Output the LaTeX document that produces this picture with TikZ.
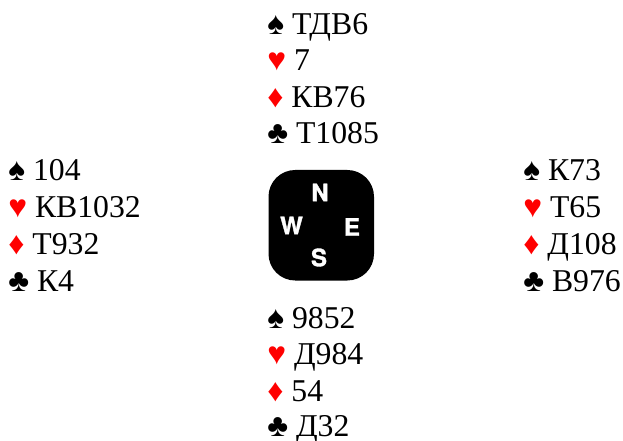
\documentclass[tikz,border=0pt]{standalone}
\usepackage{fontspec}
\setmainfont{Liberation Serif}
\newfontfamily\compassf[BoldFeatures={FakeBold=1.5}]{TeX Gyre Heros}
\definecolor{suitred}{RGB}{255,0,0}
\tikzset{
  hand/.style={anchor=base west,inner sep=0pt,font=\fontsize{23.8pt}{28pt}\selectfont},
  compass/.style={text=white,inner sep=0pt,font=\compassf\bfseries\fontsize{18pt}{20pt}\selectfont}
}
\newcommand{\Sp}{♠}
\newcommand{\Ht}{\textcolor{suitred}{♥}}
\newcommand{\Di}{\textcolor{suitred}{♦}}
\newcommand{\Cl}{♣}
\begin{document}
\begin{tikzpicture}[x=0.75pt,y=-0.75pt]
\useasboundingbox (0,0) rectangle (623,441);
\fill[white] (0,0) rectangle (623,441);
\node[hand] (n1) at (267,34.5) {\Sp\ ТДВ6};
\node[hand] (n2) at (267,70.5) {\Ht\ 7};
\node[hand] (n3) at (267,107.5) {\Di\ КВ76};
\node[hand] (n4) at (267,143.5) {\Cl\ Т1085};
\node[hand] (w1) at (8,180.5) {\Sp\ 104};
\node[hand] (w2) at (8,217.5) {\Ht\ КВ1032};
\node[hand] (w3) at (8,254.5) {\Di\ Т932};
\node[hand] (w4) at (8,291.5) {\Cl\ К4};
\node[hand] (e1) at (523,180.5) {\Sp\ К73};
\node[hand] (e2) at (523,217.5) {\Ht\ Т65};
\node[hand] (e3) at (523,254.5) {\Di\ Д108};
\node[hand] (e4) at (523,291.5) {\Cl\ В976};
\node[hand] (s1) at (267,328.5) {\Sp\ 9852};
\node[hand] (s2) at (267,364.5) {\Ht\ Д984};
\node[hand] (s3) at (267,401.5) {\Di\ 54};
\node[hand] (s4) at (267,436) {\Cl\ Д32};
\fill[black,rounded corners=20pt] (268.5,170) rectangle (374,280.5);
\node[compass] (N) at (320,192.5) {N};
\node[compass] (W) at (291.5,225.5) {W};
\node[compass] (E) at (352,227) {E};
\node[compass] (S) at (319,257.5) {S};
\end{tikzpicture}
\end{document}
